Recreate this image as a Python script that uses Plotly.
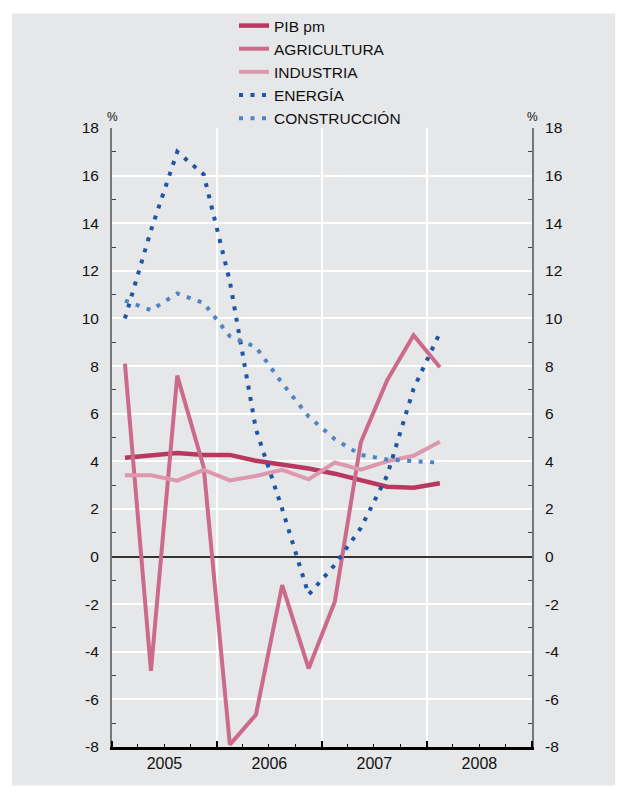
import pandas as pd
import plotly.graph_objects as go

quarters = ["2005Q1", "2005Q2", "2005Q3", "2005Q4",
            "2006Q1", "2006Q2", "2006Q3", "2006Q4",
            "2007Q1", "2007Q2", "2007Q3", "2007Q4", "2008Q1"]

pib = [4.15, 4.25, 4.35, 4.27, 4.27, 4.02, 3.87, 3.70, 3.48, 3.20, 2.93, 2.89, 3.08]
agricultura = [8.1, -4.8, 7.6, 3.75, -7.9, -6.65, -1.2, -4.7, -1.9, 4.8, 7.4, 9.3, 7.95]
industria = [3.41, 3.41, 3.19, 3.64, 3.20, 3.38, 3.64, 3.24, 3.95, 3.65, 4.00, 4.23, 4.82]
energia = [10.0, 13.7, 17.0, 16.05, 11.55, 5.35, 2.0, -1.6, -0.35, 1.2, 3.4, 7.05, 9.4]
construccion = [10.75, 10.35, 11.05, 10.65, 9.25, 8.8, 7.28, 5.88, 4.93, 4.27, 4.08, 4.0, 3.94]

y_ticks = list(range(-8, 19, 2))
y_ticktext = [str(v) for v in y_ticks]
y_minor = list(range(-7, 18, 2))

# mid-quarter dates
x = []
for q in quarters:
    p = pd.Period(q, freq="Q")
    s, e = p.start_time, p.end_time
    x.append(s + (e - s) / 2)

series = [
    ("PIB pm", pib, "#b8395f", 4.5, "solid"),
    ("AGRICULTURA", agricultura, "#cc6a8c", 4, "solid"),
    ("INDUSTRIA", industria, "#dd97ae", 4, "solid"),
    ("ENERGÍA", energia, "#1f55a6", 4, "4px,7.5px"),
    ("CONSTRUCCIÓN", construccion, "#4b85c6", 4, "4px,7.5px"),
]

fig = go.Figure()
for name, vals, color, w, dash in series:
    fig.add_trace(go.Scatter(x=x, y=vals, mode="lines", name=name,
                             line=dict(color=color, width=w, dash=dash)))

# invisible trace so the right-hand axis is drawn
fig.add_trace(go.Scatter(x=x, y=pib, yaxis="y2", mode="lines", showlegend=False,
                         hoverinfo="skip", opacity=0, line=dict(width=0)))

BG = "#e6e7e9"
FONT = "Liberation Sans, Arial, sans-serif"
TXT = "#111111"

W, H = 619, 788
# page has 8px body margin; plot area on page: x 112..532, y 127.7..746.7
fig.update_layout(
    width=W, height=H,
    margin=dict(l=104, r=95, t=120, b=49, pad=0, autoexpand=False),
    paper_bgcolor="white",
    plot_bgcolor=BG,
    font=dict(family=FONT, size=15, color=TXT),
    showlegend=True,
    legend=dict(xref="container", yref="container",
                x=226 / W, y=1 - 1 / H, xanchor="left", yanchor="top",
                bgcolor="rgba(0,0,0,0)", font=dict(size=15.5, family=FONT, color=TXT),
                tracegroupgap=0, itemwidth=30),
    shapes=[dict(type="rect", xref="paper", yref="paper",
                 x0=-0.238, x1=1.198, y0=-0.062, y1=1.185,
                 fillcolor=BG, line=dict(width=0), layer="below")],
    annotations=[
        dict(text="%", xref="paper", yref="paper", x=0, y=1.018, showarrow=False,
             font=dict(size=12, family=FONT, color=TXT), xanchor="center", yanchor="middle"),
        dict(text="%", xref="paper", yref="paper", x=1, y=1.018, showarrow=False,
             font=dict(size=12, family=FONT, color=TXT), xanchor="center", yanchor="middle"),
    ],
)

fig.update_xaxes(
    type="date",
    range=["2005-01-01", "2009-01-01"],
    tick0="2005-01-01", dtick="M12", tickformat="%Y",
    ticklabelmode="period",
    showgrid=True, gridcolor="white", gridwidth=1.5,
    ticks="inside", ticklen=6, tickwidth=2, tickcolor="black",
    showline=True, linecolor="black", linewidth=2.5,
    minor=dict(dtick="M3", tick0="2005-01-01", ticks="inside", ticklen=3,
               tickwidth=1, tickcolor="black", showgrid=False),
    tickfont=dict(size=16),
    fixedrange=True,
)

yax_common = dict(
    range=[-8, 18], tickmode="array", tickvals=y_ticks, ticktext=y_ticktext,
    showline=True, linecolor="#777777", linewidth=2,
    ticks="", ticklabelstandoff=8,
    minor=dict(tickmode="array", tickvals=y_minor, ticks="inside",
               ticklen=4, tickwidth=1, tickcolor="#444444", showgrid=False),
    tickfont=dict(size=15.5),
    fixedrange=True,
)

fig.update_layout(
    yaxis=dict(**yax_common, showgrid=True, gridcolor="white", gridwidth=1.5,
               zeroline=True, zerolinecolor="#333333", zerolinewidth=1.5),
    yaxis2=dict(**yax_common, overlaying="y", side="right", anchor="x",
                showgrid=False, zeroline=False),
)

fig.write_html("out.html")
